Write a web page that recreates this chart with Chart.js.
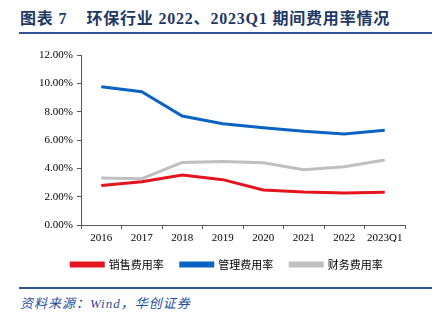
<!DOCTYPE html>
<html>
<head>
<meta charset="utf-8">
<script src="https://cdn.jsdelivr.net/npm/chart.js@4"></script>
<style>
  html, body { margin: 0; padding: 0; background: #fff; }
  body { width: 441px; height: 326px; position: relative; overflow: hidden; }
  #title {
    position: absolute; left: 20px; top: 5px;
    font-family: "Liberation Serif", "Noto Sans CJK SC", serif;
    font-weight: bold; font-size: 16px; letter-spacing: 0.8px; color: #1f3864; white-space: pre;
  }
  #rule1 { position: absolute; left: 19px; top: 32px; width: 413px; height: 2px; background: #2f5597; }
  #rule2 { position: absolute; left: 19px; top: 287px; width: 413px; height: 2px; background: #2f5597; }
  #source {
    position: absolute; left: 20px; top: 293px;
    font-family: "Liberation Serif", "Noto Sans CJK SC", serif;
    font-style: italic; font-size: 13px; letter-spacing: 1px; color: #1f4e99;
  }
  #wrap { position: absolute; left: 0; top: 40px; width: 441px; height: 245px; }
</style>
</head>
<body>
<div id="title">图表 7    环保行业 2022、2023Q1 期间费用率情况</div>
<div id="rule1"></div>
<div id="wrap"><canvas id="chart"></canvas></div>
<div id="rule2"></div>
<div id="source">资料来源：Wind，华创证券</div>
<script>
const years = ['2016', '2017', '2018', '2019', '2020', '2021', '2022', '2023Q1'];
const salesRate = [2.78, 3.06, 3.53, 3.20, 2.47, 2.33, 2.26, 2.31];
const adminRate = [9.76, 9.41, 7.69, 7.15, 6.87, 6.61, 6.42, 6.68];
const financeRate = [3.32, 3.27, 4.42, 4.49, 4.40, 3.90, 4.11, 4.59];

const font = { family: '"Liberation Serif", "Noto Sans CJK SC", serif', size: 11 };
const axisColor = '#595959';

new Chart(document.getElementById('chart'), {
    type: 'line',
    data: {
        labels: years,
        datasets: [
            { label: '销售费用率', data: salesRate, borderColor: '#e3151e', backgroundColor: '#e3151e' },
            { label: '管理费用率', data: adminRate, borderColor: '#0a63c2', backgroundColor: '#0a63c2' },
            { label: '财务费用率', data: financeRate, borderColor: '#bfbfbf', backgroundColor: '#bfbfbf' }
        ]
    },
    options: {
        responsive: true,
        maintainAspectRatio: false,
        animation: false,
        layout: { padding: { top: 15, right: 0, bottom: 5, left: 13 } },
        elements: {
            line: { borderWidth: 3, tension: 0 },
            point: { radius: 0 }
        },
        scales: {
            x: {
                offset: true,
                grid: { drawOnChartArea: false, tickLength: 4, color: axisColor, offset: true },
                border: { color: axisColor, width: 1 },
                ticks: { color: '#000', font: font, padding: 3, maxRotation: 0 },
                afterFit: s => { s.height = 17; }
            },
            y: {
                min: 0, max: 12,
                grid: { drawOnChartArea: false, tickLength: 4, color: axisColor },
                border: { color: axisColor, width: 1 },
                ticks: {
                    stepSize: 2, color: '#000', font: font, padding: 4,
                    callback: v => v.toFixed(2) + '%'
                },
                afterFit: s => { s.width = 68; }
            },
            // empty spacer so the legend centres like the original
            yRight: {
                position: 'right',
                grid: { display: false },
                border: { display: false },
                ticks: { display: false },
                afterFit: s => { s.width = 36; }
            }
        },
        plugins: {
            legend: {
                position: 'bottom',
                labels: {
                    boxWidth: 32, boxHeight: 3, padding: 17,
                    color: '#000', font: { family: '"Noto Sans CJK SC", sans-serif', size: 11 }
                }
            },
            tooltip: { enabled: false }
        }
    }
});
</script>
</body>
</html>
